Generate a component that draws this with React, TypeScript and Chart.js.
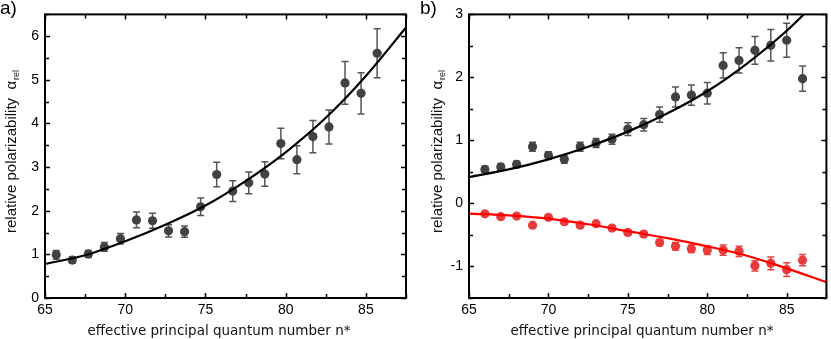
import React, { useEffect, useRef } from "react";
import { Chart, registerables } from "chart.js";
Chart.register(...registerables);

// ---------- data ----------
const xTicks = [65, 70, 75, 80, 85];
const aYTicks = [0, 1, 2, 3, 4, 5, 6];
const bYTicks = [-1, 0, 1, 2, 3];

// panel a
const aN = [65.7, 66.7, 67.7, 68.7, 69.7, 70.7, 71.7, 72.7, 73.7, 74.7, 75.7, 76.7, 77.7, 78.7, 79.7, 80.7, 81.7, 82.7, 83.7, 84.7, 85.7];
const aAlpha = [0.99, 0.87, 1.01, 1.17, 1.36, 1.79, 1.77, 1.54, 1.52, 2.09, 2.83, 2.45, 2.64, 2.84, 3.54, 3.17, 3.70, 3.92, 4.93, 4.69, 5.61];
const aErr = [0.1, 0.07, 0.08, 0.1, 0.12, 0.18, 0.17, 0.14, 0.13, 0.2, 0.28, 0.24, 0.25, 0.28, 0.35, 0.32, 0.37, 0.39, 0.49, 0.47, 0.56];
const aFitN = [65, 67.5, 70, 72.5, 75, 77.5, 80, 82.5, 85, 87.5];
const aFit = [0.78, 0.98, 1.30, 1.68, 2.12, 2.68, 3.34, 4.13, 5.09, 6.2];

// panel b
const bN = [66, 67, 68, 69, 70, 71, 72, 73, 74, 75, 76, 77, 78, 79, 80, 81, 82, 83, 84, 85, 86];
const bScalar = [0.54, 0.58, 0.62, 0.90, 0.76, 0.70, 0.90, 0.96, 1.02, 1.18, 1.25, 1.41, 1.69, 1.72, 1.75, 2.19, 2.27, 2.43, 2.51, 2.59, 1.98];
const bScalarErr = [0.05, 0.05, 0.05, 0.07, 0.06, 0.06, 0.07, 0.07, 0.08, 0.1, 0.1, 0.12, 0.16, 0.16, 0.17, 0.2, 0.2, 0.22, 0.25, 0.27, 0.2];
const bTensor = [-0.165, -0.21, -0.2, -0.345, -0.22, -0.29, -0.345, -0.32, -0.39, -0.46, -0.485, -0.62, -0.68, -0.72, -0.74, -0.74, -0.76, -0.99, -0.95, -1.05, -0.9];
const bTensorErr = [0.03, 0.03, 0.03, 0.03, 0.03, 0.03, 0.03, 0.03, 0.03, 0.04, 0.04, 0.05, 0.06, 0.06, 0.07, 0.08, 0.08, 0.08, 0.1, 0.11, 0.09];
const bFitN = [65, 67.5, 70, 72.5, 75, 77.5, 80, 82.5, 85, 87.5];
const bScalarFit = [0.42, 0.54, 0.70, 0.90, 1.14, 1.43, 1.78, 2.22, 2.74, 3.36];
const bTensorFit = [-0.16, -0.19, -0.24, -0.33, -0.44, -0.55, -0.68, -0.83, -1.03, -1.25];

const xTitle = "effective principal quantum number n*";
const yTitle = "relative polarizability  ";

type Series = { n: number[]; v: number[]; err: number[]; color: string; barColor: string };
type Fit = { n: number[]; v: number[]; color: string };
type Spec = {
  label: string;
  yMin: number;
  yMax: number;
  yTicks: number[];
  series: Series[];
  fits: Fit[];
  yWidth: number;
  rightPad: number;
  yTitleX: number;
  xTitleX: number;
  labelX: number;
  width: number;
};

const H = 339;
const TOP = 7;
const XH = 41;

function Panel({ spec, left }: { spec: Spec; left: number }) {
  const ref = useRef<HTMLCanvasElement | null>(null);
  useEffect(() => {
    const canvas = ref.current!;
    const tickFont = { family: "'Liberation Sans', Arial, sans-serif", size: 14 };
    const deco = {
      id: "deco",
      beforeDatasetsDraw(chart: any) {
        const ctx = chart.ctx;
        const xs = chart.scales.x;
        const ys = chart.scales.y;
        ctx.save();
        spec.series.forEach((s) => {
          ctx.strokeStyle = s.barColor;
          ctx.lineWidth = 1.5;
          s.n.forEach((n, i) => {
            const px = xs.getPixelForValue(n);
            const y1 = ys.getPixelForValue(s.v[i] + s.err[i]);
            const y2 = ys.getPixelForValue(s.v[i] - s.err[i]);
            ctx.beginPath();
            ctx.moveTo(px, y1);
            ctx.lineTo(px, y2);
            ctx.moveTo(px - 3.5, y1);
            ctx.lineTo(px + 3.5, y1);
            ctx.moveTo(px - 3.5, y2);
            ctx.lineTo(px + 3.5, y2);
            ctx.stroke();
          });
        });
        ctx.restore();
      },
      afterDraw(chart: any) {
        const ctx = chart.ctx;
        const a = chart.chartArea;
        const xs = chart.scales.x;
        const ys = chart.scales.y;
        ctx.save();
        ctx.strokeStyle = "#000";
        ctx.lineWidth = 2;
        ctx.strokeRect(a.left, a.top, a.right - a.left, a.bottom - a.top);
        ctx.lineWidth = 1.5;
        ctx.beginPath();
        for (let v = 65; v <= 87.5; v += 2.5) {
          const px = Math.round(xs.getPixelForValue(v)) + 0.5;
          const L = v % 5 === 0 ? 5 : 4;
          ctx.moveTo(px, a.bottom);
          ctx.lineTo(px, a.bottom - L);
          ctx.moveTo(px, a.top);
          ctx.lineTo(px, a.top + L);
        }
        for (let v = spec.yMin; v <= spec.yMax + 1e-9; v += 0.5) {
          const py = Math.round(ys.getPixelForValue(v)) + 0.5;
          const L = Math.abs(v - Math.round(v)) < 1e-9 ? 5 : 4;
          ctx.moveTo(a.left, py);
          ctx.lineTo(a.left + L, py);
          ctx.moveTo(a.right, py);
          ctx.lineTo(a.right - L, py);
        }
        ctx.stroke();

        // x title
        ctx.fillStyle = "#111";
        ctx.font = "13.5px 'DejaVu Sans', Verdana, sans-serif";
        ctx.textAlign = "center";
        ctx.textBaseline = "alphabetic";
        ctx.fillText(xTitle, spec.xTitleX, 335);

        // y title
        ctx.save();
        ctx.translate(spec.yTitleX, 233);
        ctx.rotate(-Math.PI / 2);
        ctx.textAlign = "left";
        ctx.font = "15px 'Liberation Sans', Arial, sans-serif";
        ctx.fillText(yTitle, 0, 0);
        const w = ctx.measureText(yTitle).width;
        ctx.fillText("\u03b1", w, 0);
        const wa = ctx.measureText("\u03b1").width;
        ctx.font = "9px 'Liberation Sans', Arial, sans-serif";
        ctx.fillText("rel", w + wa + 1, 3);
        ctx.restore();

        // panel label
        ctx.font = "19px 'Liberation Sans', Arial, sans-serif";
        ctx.textAlign = "left";
        ctx.fillStyle = "#000";
        ctx.fillText(spec.label, spec.labelX, 14);
        ctx.restore();
      },
    };

    const datasets: any[] = [];
    spec.fits.forEach((f) => {
      datasets.push({
        type: "line",
        data: f.n.map((x, i) => ({ x, y: f.v[i] })),
        borderColor: f.color,
        borderWidth: 2.2,
        pointRadius: 0,
        cubicInterpolationMode: "monotone",
        fill: false,
        clip: 0,
        order: 0,
      });
    });
    spec.series.forEach((s) => {
      datasets.push({
        type: "scatter",
        data: s.n.map((x, i) => ({ x, y: s.v[i] })),
        backgroundColor: s.color,
        borderColor: s.color,
        borderWidth: 0,
        pointRadius: 4.6,
        order: 1,
      });
    });

    const chart = new Chart(canvas, {
      type: "scatter",
      data: { datasets },
      options: {
        animation: false,
        responsive: false,
        events: [],
        layout: { padding: { top: TOP, right: spec.rightPad, left: 0, bottom: 0 } },
        plugins: { legend: { display: false }, tooltip: { enabled: false } },
        scales: {
          x: {
            type: "linear",
            min: 65,
            max: 87.5,
            grid: { display: false, drawTicks: false },
            border: { display: false },
            ticks: { padding: 4, font: tickFont, color: "#000", maxRotation: 0, callback: (v: any) => String(v) },
            afterBuildTicks: (s: any) => {
              s.ticks = xTicks.map((v) => ({ value: v }));
            },
            afterFit: (s: any) => {
              s.height = XH;
            },
          },
          y: {
            type: "linear",
            min: spec.yMin,
            max: spec.yMax,
            grid: { display: false, drawTicks: false },
            border: { display: false },
            ticks: { padding: 6, font: tickFont, color: "#000", callback: (v: any) => String(v) },
            afterBuildTicks: (s: any) => {
              s.ticks = spec.yTicks.map((v) => ({ value: v }));
            },
            afterFit: (s: any) => {
              s.width = spec.yWidth;
            },
          },
        },
      } as any,
      plugins: [deco],
    });
    return () => chart.destroy();
  }, [spec]);
  return (
    <canvas
      ref={ref}
      width={spec.width}
      height={H}
      style={{ position: "absolute", left, top: 0, width: spec.width, height: H }}
    />
  );
}

const specA: Spec = {
  label: "a)",
  yMin: 0,
  yMax: 6.5,
  yTicks: aYTicks,
  series: [{ n: aN, v: aAlpha, err: aErr, color: "#424242", barColor: "#555" }],
  fits: [{ n: aFitN, v: aFit, color: "#000" }],
  yWidth: 45,
  rightPad: 9,
  yTitleX: 16,
  xTitleX: 219,
  labelX: 0,
  width: 415,
};

const specB: Spec = {
  label: "b)",
  yMin: -1.5,
  yMax: 3,
  yTicks: bYTicks,
  series: [
    { n: bN, v: bScalar, err: bScalarErr, color: "#424242", barColor: "#555" },
    { n: bN, v: bTensor, err: bTensorErr, color: "#ea3b3b", barColor: "#ea4040" },
  ],
  fits: [
    { n: bFitN, v: bScalarFit, color: "#000" },
    { n: bFitN, v: bTensorFit, color: "#ff0000" },
  ],
  yWidth: 54,
  rightPad: 1,
  yTitleX: 27,
  xTitleX: 227,
  labelX: 5,
  width: 416,
};

export default function App() {
  return (
    <div style={{ position: "fixed", left: 0, top: 0, width: 831, height: H, background: "#fff", overflow: "hidden" }}>
      <Panel spec={specA} left={0} />
      <Panel spec={specB} left={415} />
    </div>
  );
}
